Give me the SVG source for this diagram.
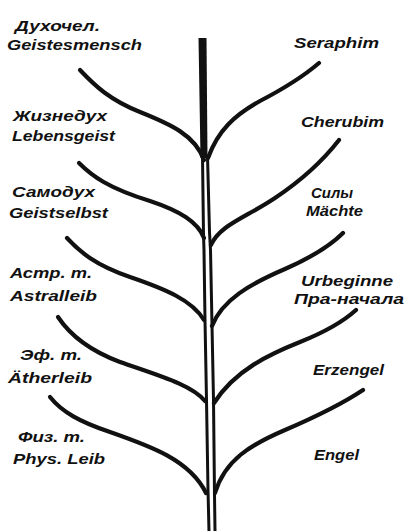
<svg xmlns="http://www.w3.org/2000/svg" width="406" height="531" viewBox="0 0 406 531">
<style>
.lbl{font-family:"Liberation Sans","DejaVu Sans",sans-serif;font-style:italic;font-weight:bold;font-size:14px;fill:#111}
.br{fill:none;stroke:#111;stroke-width:4.2;stroke-linecap:round;stroke-linejoin:round}
.tr{fill:none;stroke:#111;stroke-width:3;stroke-linecap:butt}
</style>
<rect width="406" height="531" fill="#fff"/>
<g id="connectors">
<path d="M198.5,38 L206.5,38 L207.5,158 L200.5,158 Z" fill="#111"/>
<path class="tr" d="M202.5,156 L203.5,235 L204,250 L205,320 L206.5,400 L208,490 L209,531"/>
<path class="tr" d="M207.5,156 L209.5,232 L210.5,250 L212,325 L213.5,400 L214.5,495 L215,531"/>
<path class="br" d="M80,70 C95,86 110,100 140,112 C170,124 195,135 204,160"/>
<path class="br" d="M79,163 C92,176 108,188 150,201 C180,211 198,222 204,238"/>
<path class="br" d="M67,238 C80,252 95,265 130,277 C165,289 192,300 204,320"/>
<path class="br" d="M58,317 C70,335 88,350 120,362 C160,376 192,385 205,401"/>
<path class="br" d="M50,397 C62,412 80,422 110,432 C150,446 190,460 206,493"/>
<path class="br" d="M319,63 C305,75 285,88 260,101 C235,115 218,130 208,158"/>
<path class="br" d="M339,140 C325,158 305,178 275,198 C245,218 220,225 211,245"/>
<path class="br" d="M343,233 C330,246 310,258 285,269 C250,284 222,300 212,326"/>
<path class="br" d="M356,310 C345,320 325,332 300,342 C270,354 235,370 214,403"/>
<path class="br" d="M363,390 C345,402 320,415 285,430 C250,445 225,460 215,493"/>
</g>
<g id="n-geistesmensch"><text class="lbl" x="15" y="31" textLength="85" lengthAdjust="spacingAndGlyphs">Духочел.</text><text class="lbl" x="7" y="50" textLength="135" lengthAdjust="spacingAndGlyphs">Geistesmensch</text></g>
<g id="n-lebensgeist"><text class="lbl" x="13" y="121" textLength="94" lengthAdjust="spacingAndGlyphs">Жизнедух</text><text class="lbl" x="12" y="141" textLength="103" lengthAdjust="spacingAndGlyphs">Lebensgeist</text></g>
<g id="n-geistselbst"><text class="lbl" x="12" y="197" textLength="83" lengthAdjust="spacingAndGlyphs">Самодух</text><text class="lbl" x="9" y="218" textLength="99" lengthAdjust="spacingAndGlyphs">Geistselbst</text></g>
<g id="n-astralleib"><text class="lbl" x="10" y="278" textLength="82" lengthAdjust="spacingAndGlyphs">Астр. т.</text><text class="lbl" x="10" y="301" textLength="87" lengthAdjust="spacingAndGlyphs">Astralleib</text></g>
<g id="n-aetherleib"><text class="lbl" x="20" y="360" textLength="62" lengthAdjust="spacingAndGlyphs">Эф. т.</text><text class="lbl" x="8" y="383" textLength="84" lengthAdjust="spacingAndGlyphs">Ätherleib</text></g>
<g id="n-physleib"><text class="lbl" x="18" y="442" textLength="67" lengthAdjust="spacingAndGlyphs">Физ. т.</text><text class="lbl" x="13" y="464" textLength="92" lengthAdjust="spacingAndGlyphs">Phys. Leib</text></g>
<g id="n-seraphim"><text class="lbl" x="294" y="48" textLength="85" lengthAdjust="spacingAndGlyphs">Seraphim</text></g>
<g id="n-cherubim"><text class="lbl" x="301" y="127" textLength="83" lengthAdjust="spacingAndGlyphs">Cherubim</text></g>
<g id="n-maechte"><text class="lbl" x="311" y="198" textLength="42" lengthAdjust="spacingAndGlyphs">Силы</text><text class="lbl" x="306" y="216" textLength="57" lengthAdjust="spacingAndGlyphs">Mächte</text></g>
<g id="n-urbeginne"><text class="lbl" x="301" y="286" textLength="92" lengthAdjust="spacingAndGlyphs">Urbeginne</text><text class="lbl" x="294" y="304" textLength="110" lengthAdjust="spacingAndGlyphs">Пра-начала</text></g>
<g id="n-erzengel"><text class="lbl" x="313" y="375" textLength="71" lengthAdjust="spacingAndGlyphs">Erzengel</text></g>
<g id="n-engel"><text class="lbl" x="314" y="460" textLength="45" lengthAdjust="spacingAndGlyphs">Engel</text></g>
</svg>
